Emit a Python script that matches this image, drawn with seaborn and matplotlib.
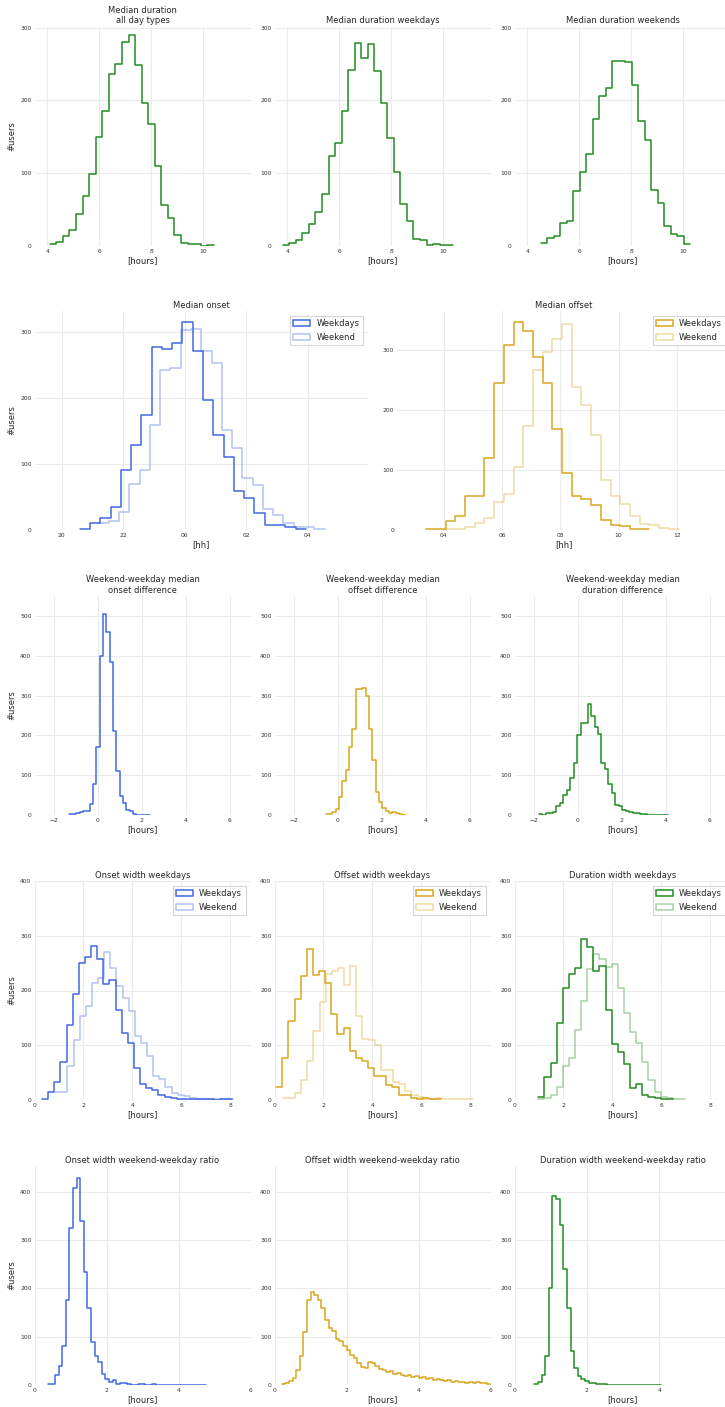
import numpy as np
import pandas as pd
import matplotlib
matplotlib.use("Agg")
import matplotlib.pyplot as plt
from matplotlib.patches import Patch
from matplotlib.ticker import MultipleLocator, FuncFormatter
import seaborn as sns

# ---- histogram data: (first bin edge, bin width, counts per bin) ----
# Median duration (hours)
dur_all_start, dur_all_width = 4.09, 0.253
dur_all = [2, 5, 13, 22, 44, 68, 98, 149, 185, 237, 250, 281, 290, 249, 196, 168,
           110, 56, 38, 15, 4, 2, 2, 0, 1]
dur_wd_start, dur_wd_width = 3.82, 0.252
dur_wd = [1, 3, 7, 17, 29, 46, 71, 124, 142, 186, 242, 279, 258, 278, 241, 197,
          148, 102, 57, 34, 9, 8, 1, 2, 1, 1]
dur_we_start, dur_we_width = 4.51, 0.251
dur_we = [4, 11, 13, 31, 34, 75, 101, 126, 175, 206, 217, 255, 254, 253, 222, 172,
          146, 77, 59, 27, 16, 13, 2]

# Median onset / offset (clock hours, onset past midnight continues above 24)
onset_wd_start, onset_wd_width = 20.59, 0.334
onset_wd = [2, 10, 18, 35, 91, 128, 174, 276, 273, 282, 314, 270, 197, 144, 110,
            59, 48, 25, 8, 8, 4, 2]
onset_we_start, onset_we_width = 21.2, 0.334
onset_we = [10, 13, 27, 70, 90, 159, 242, 245, 302, 304, 270, 253, 151, 124, 78,
            68, 32, 22, 10, 5, 4, 1]
offset_wd_start, offset_wd_width = 3.40, 0.333
offset_wd = [2, 2, 15, 24, 56, 56, 120, 244, 307, 345, 330, 288, 244, 168, 95, 57,
             51, 42, 16, 8, 6, 1, 1]
offset_we_start, offset_we_width = 4.066, 0.333
offset_we = [2, 2, 5, 12, 20, 47, 60, 104, 173, 266, 296, 317, 343, 238, 207, 158,
             83, 57, 44, 23, 10, 8, 4, 1]

# Weekend - weekday median differences (hours)
onset_diff_start, onset_diff_width = -1.29, 0.152
onset_diff = [3, 2, 4, 8, 11, 9, 27, 77, 172, 400, 506, 459, 384, 211, 110, 48, 31,
              12, 9, 2, 1, 1, 0, 1]
offset_diff_start, offset_diff_width = -0.56, 0.1515
offset_diff = [2, 3, 8, 14, 44, 86, 114, 172, 215, 316, 316, 318, 298, 215, 138, 57,
               32, 18, 10, 5, 7, 4, 2, 1]
dur_diff_start, dur_diff_width = -1.78, 0.1586
dur_diff = [2, 1, 4, 5, 7, 23, 29, 49, 63, 92, 130, 202, 232, 230, 280, 249, 222,
            204, 130, 116, 77, 54, 24, 22, 12, 9, 7, 6, 4, 3, 2, 1, 1, 1, 0, 1, 1]

# Widths (hours), weekdays vs weekend
onset_w_wd_start, onset_w_wd_width = 0.31, 0.25
onset_w_wd = [2, 14, 32, 69, 137, 194, 250, 262, 281, 258, 212, 219, 165, 122, 104,
              59, 30, 22, 18, 10, 5, 4, 2, 2, 1, 1, 1, 1, 0, 1, 1]
onset_w_we_start, onset_w_we_width = 0.845, 0.25
onset_w_we = [15, 15, 63, 109, 153, 171, 213, 223, 271, 241, 209, 187, 163, 116, 104,
              80, 44, 39, 24, 12, 9, 7, 4, 2, 2, 1, 2, 1, 1]
offset_w_wd_start, offset_w_wd_width = 0.068, 0.25
offset_w_wd = [24, 76, 144, 184, 226, 276, 228, 236, 213, 157, 121, 131, 90, 77, 71,
               58, 44, 44, 28, 23, 9, 10, 4, 2, 4, 2, 1]
offset_w_we_start, offset_w_we_width = 0.34, 0.25
offset_w_we = [3, 3, 12, 37, 72, 126, 179, 230, 235, 241, 210, 245, 154, 112, 109, 100,
               55, 54, 33, 29, 17, 9, 5, 2, 1, 4, 1, 2, 1, 1, 1]
dur_w_wd_start, dur_w_wd_width = 0.97, 0.25
dur_w_wd = [5, 42, 67, 140, 204, 231, 241, 294, 280, 236, 245, 164, 102, 87, 65, 22,
            30, 9, 6, 4, 1, 1]
dur_w_we_start, dur_w_we_width = 0.97, 0.25
dur_w_we = [1, 4, 9, 23, 62, 77, 128, 181, 240, 266, 257, 243, 249, 205, 159, 125,
            104, 69, 36, 15, 5, 4, 2, 1]

# Weekend / weekday width ratios
onset_ratio_start, onset_ratio_width = 0.37, 0.1
onset_ratio = [3, 3, 20, 39, 81, 175, 324, 408, 428, 339, 233, 160, 89, 60, 47, 23,
               13, 6, 10, 3, 5, 4, 3, 1, 1, 2, 2, 1, 1, 2, 1, 0, 1, 1, 0, 1, 0, 1,
               1, 0, 1, 1, 0, 1]
offset_ratio_start, offset_ratio_width = 0.2, 0.1
offset_ratio = [2, 5, 8, 15, 32, 60, 110, 175, 192, 186, 176, 160, 135, 118, 112, 96,
                92, 80, 72, 62, 55, 46, 38, 36, 48, 46, 40, 34, 30, 26, 28, 22, 24,
                20, 18, 20, 16, 18, 14, 16, 12, 14, 10, 12, 10, 8, 10, 7, 8, 6, 7,
                5, 6, 4, 6, 4, 5, 3]
dur_ratio_start, dur_ratio_width = 0.55, 0.1
dur_ratio = [2, 6, 20, 60, 200, 390, 385, 330, 240, 160, 70, 35, 18, 12, 8, 5, 4, 3,
             2, 2, 1, 1, 1, 0, 1, 1, 0, 1, 0, 1, 0, 0, 1, 0, 1]

legend_labels = ["Weekdays", "Weekend"]

BLUE = "#4169e1"
GOLD = "#daa520"
GREEN = "#228b22"
WEEKEND_ALPHA = 0.4

# ---- style ----
sns.set_style("whitegrid", {"grid.color": "#ebebeb", "axes.edgecolor": "white"})
plt.rcParams["font.family"] = ["DejaVu Sans"]
plt.rcParams["text.color"] = ".15"
plt.rcParams["axes.labelcolor"] = ".15"
plt.rcParams["xtick.color"] = ".2"
plt.rcParams["ytick.color"] = ".2"

W, H = 725, 1407
fig = plt.figure(figsize=(W / 100, H / 100), dpi=100)


def make_ax(left, top, width, height):
    return fig.add_axes([left / W, 1 - (top + height) / H, width / W, height / H])


def step_hist(ax, start, width, counts, color, alpha=1.0):
    counts = np.asarray(counts, dtype=float)
    edges = start + width * np.arange(len(counts) + 1)
    frame = pd.DataFrame({"value": edges[:-1] + width / 2, "users": counts})
    sns.histplot(data=frame, x="value", weights="users", bins=list(edges),
                 element="step", fill=False, color=color, alpha=alpha,
                 linewidth=1.1, ax=ax)


def finish(ax, title, xlabel, xlim, ylim, ylabel=False):
    ax.set_xlim(*xlim)
    ax.set_ylim(*ylim)
    ax.set_title(title, fontsize=6, pad=2.5)
    ax.set_xlabel(xlabel, fontsize=6, labelpad=1.5)
    ax.set_ylabel("#users" if ylabel else "", fontsize=6, labelpad=3)
    ax.xaxis.set_major_locator(MultipleLocator(2))
    ax.yaxis.set_major_locator(MultipleLocator(100))
    ax.tick_params(labelsize=4.3, length=0, pad=2.2)
    ax.grid(True, color="#ebebeb", linewidth=0.8)
    sns.despine(ax=ax, left=True, bottom=True)


def add_legend(ax, color):
    handles = [Patch(facecolor="none", edgecolor=color, linewidth=1.1),
               Patch(facecolor="none", edgecolor=color, alpha=WEEKEND_ALPHA, linewidth=1.1)]
    leg = ax.legend(handles, legend_labels, loc="upper right", fontsize=6,
                    frameon=True, fancybox=False, borderaxespad=0.6)
    leg.get_frame().set_edgecolor("#cccccc")
    leg.get_frame().set_linewidth(0.8)


LEFTS = [34.5, 274.5, 514.5]
PW, PH = 216, 219
TOPS = [26.5, 311, 596, 881, 1166]

# Row 1: median durations
ax = make_ax(LEFTS[0], TOPS[0], PW, PH)
step_hist(ax, dur_all_start, dur_all_width, dur_all, GREEN)
finish(ax, "Median duration\nall day types", "[hours]", (3.5, 11.83), (0, 302), ylabel=True)
ax = make_ax(LEFTS[1], TOPS[0], PW, PH)
step_hist(ax, dur_wd_start, dur_wd_width, dur_wd, GREEN)
finish(ax, "Median duration weekdays", "[hours]", (3.5, 11.83), (0, 302))
ax = make_ax(LEFTS[2], TOPS[0], PW, PH)
step_hist(ax, dur_we_start, dur_we_width, dur_we, GREEN)
finish(ax, "Median duration weekends", "[hours]", (3.5, 11.83), (0, 302))

# Row 2: median onset and offset clock times
clock_fmt = FuncFormatter(lambda v, pos: f"{int(round(v)) % 24:02d}")
ax = make_ax(34.5, TOPS[1], 333.5, PH)
step_hist(ax, onset_wd_start, onset_wd_width, onset_wd, BLUE)
step_hist(ax, onset_we_start, onset_we_width, onset_we, BLUE, WEEKEND_ALPHA)
finish(ax, "Median onset", "[hh]", (19.12, 29.96), (0, 331), ylabel=True)
ax.xaxis.set_major_formatter(clock_fmt)
add_legend(ax, BLUE)
ax = make_ax(397, TOPS[1], 333.5, PH)
step_hist(ax, offset_wd_start, offset_wd_width, offset_wd, GOLD)
step_hist(ax, offset_we_start, offset_we_width, offset_we, GOLD, WEEKEND_ALPHA)
finish(ax, "Median offset", "[hh]", (2.40, 13.84), (0, 364))
ax.xaxis.set_major_formatter(clock_fmt)
add_legend(ax, GOLD)

# Row 3: weekend - weekday differences
row3 = [("Weekend-weekday median\nonset difference", onset_diff_start, onset_diff_width, onset_diff, BLUE),
        ("Weekend-weekday median\noffset difference", offset_diff_start, offset_diff_width, offset_diff, GOLD),
        ("Weekend-weekday median\nduration difference", dur_diff_start, dur_diff_width, dur_diff, GREEN)]
for i, (title, s, w, c, col) in enumerate(row3):
    ax = make_ax(LEFTS[i], TOPS[2], PW, PH)
    step_hist(ax, s, w, c, col)
    finish(ax, title, "[hours]", (-2.88, 6.94), (0, 550), ylabel=(i == 0))

# Row 4: widths, weekdays vs weekend
row4 = [("Onset width weekdays", (onset_w_wd_start, onset_w_wd_width, onset_w_wd),
         (onset_w_we_start, onset_w_we_width, onset_w_we), BLUE),
        ("Offset width weekdays", (offset_w_wd_start, offset_w_wd_width, offset_w_wd),
         (offset_w_we_start, offset_w_we_width, offset_w_we), GOLD),
        ("Duration width weekdays", (dur_w_wd_start, dur_w_wd_width, dur_w_wd),
         (dur_w_we_start, dur_w_we_width, dur_w_we), GREEN)]
for i, (title, wd, we, col) in enumerate(row4):
    ax = make_ax(LEFTS[i], TOPS[3], PW, PH)
    step_hist(ax, *wd, col)
    step_hist(ax, *we, col, WEEKEND_ALPHA)
    finish(ax, title, "[hours]", (0, 8.82), (0, 400), ylabel=(i == 0))
    add_legend(ax, col)

# Row 5: weekend / weekday width ratios
row5 = [("Onset width weekend-weekday ratio", onset_ratio_start, onset_ratio_width, onset_ratio, BLUE, 6.0),
        ("Offset width weekend-weekday ratio", offset_ratio_start, offset_ratio_width, offset_ratio, GOLD, 6.0),
        ("Duration width weekend-weekday ratio", dur_ratio_start, dur_ratio_width, dur_ratio, GREEN, 5.97)]
for i, (title, s, w, c, col, xmax) in enumerate(row5):
    ax = make_ax(LEFTS[i], TOPS[4], PW, PH)
    step_hist(ax, s, w, c, col)
    finish(ax, title, "[hours]", (0, xmax), (0, 453), ylabel=(i == 0))

fig.savefig("out.png", dpi=100, facecolor="white")
